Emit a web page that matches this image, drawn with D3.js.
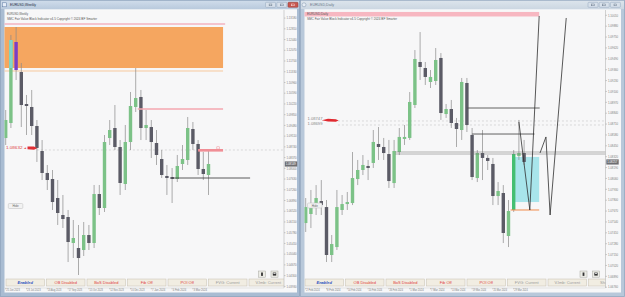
<!DOCTYPE html>
<html><head><meta charset="utf-8">
<script src="https://cdn.jsdelivr.net/npm/d3@7/dist/d3.min.js"></script>
<style>
html,body{margin:0;padding:0;background:#fff;overflow:hidden}
svg{display:block;font-family:"Liberation Sans","DejaVu Sans",Arial,sans-serif}
</style></head><body>
<svg id="c" width="625" height="297"></svg>
<script>
// ================= DATA : EURUSD Weekly (left window) =================
const weeklyOpen  = [1.09045,1.09563,1.12356,1.11321,1.10218,1.10115,1.09459,1.08597,1.07839,1.07632,1.06976,1.06390,1.06321,1.05425,1.05252,1.05183,1.05700,1.05425,1.07114,1.06632,1.09045,1.09390,1.08735,1.07460,1.08907,1.10115,1.10460,1.09390,1.09424,1.08873,1.08321,1.07735,1.07701,1.07632,1.08149,1.08287,1.09356,1.08839,1.07977,1.07770];
const weeklyHigh  = [1.10011,1.12598,1.12873,1.11632,1.10529,1.10701,1.09666,1.08976,1.08115,1.07942,1.07597,1.07080,1.06563,1.06218,1.06046,1.06149,1.06046,1.07425,1.07425,1.09149,1.09666,1.10183,1.08976,1.09494,1.10632,1.11459,1.10701,1.10011,1.09666,1.09321,1.08632,1.08115,1.08011,1.08460,1.08804,1.09770,1.09597,1.08976,1.08563,1.08632];
const weeklyLow   = [1.08804,1.09390,1.11045,1.09424,1.09149,1.09149,1.08218,1.07597,1.07252,1.06563,1.06046,1.05942,1.04769,1.04907,1.04321,1.04976,1.05183,1.05252,1.06390,1.06494,1.08804,1.08632,1.07080,1.07252,1.08632,1.09942,1.08976,1.08976,1.08356,1.08115,1.07666,1.07080,1.06804,1.07528,1.07942,1.08115,1.08632,1.07770,1.07597,1.07080];
const weeklyClose = [1.09666,1.12425,1.11390,1.10183,1.10149,1.09459,1.08701,1.07839,1.07597,1.06838,1.06459,1.06252,1.05459,1.05597,1.04907,1.05700,1.05425,1.07114,1.06632,1.08907,1.09321,1.08735,1.07494,1.08907,1.10149,1.10425,1.09390,1.09494,1.08907,1.08460,1.07770,1.07666,1.07632,1.08080,1.08321,1.09390,1.08839,1.07977,1.07804,1.08149];
const weeklyMarkedOB  = [1];   // candle partly painted as order block
const weeklyMarkedBoS = [2];   // purple candle
const weeklyPriceTicks = [1.13180,1.12810,1.12440,1.12070,1.11700,1.11330,1.10960,1.10590,1.10220,1.09850,1.09480,1.09110,1.08740,1.08370,1.08000,1.07630,1.07260,1.06890,1.06520,1.06150,1.05780,1.05410,1.05040,1.04670,1.04300,1.03930];
const weeklyDateLabels = ["25 Jun 2023","23 Jul 2023","20 Aug 2023","17 Sep 2023","15 Oct 2023","12 Nov 2023","10 Dec 2023","7 Jan 2024","4 Feb 2024","3 Mar 2024"];
const weeklyDateIndex  = [0,4,8,12,16,20,24,28,32,36];
// zones: [fromIndex, toIndex, priceHigh, priceLow]
const weeklyOrangeBox = [-2, 41.8, 1.12873, 1.11459];
const weeklyPinkTop   = [-2, 42.2, 1.12976];
const weeklyOrangeLine= [-2, 41.8, 1.11356];
const weeklyPinkLine  = [25.4, 41.8, 1.10046];
const weeklyRedZone   = [37, 41.8, 1.08666, 1.08597];
const weeklyBlackLine = [32, 47, 1.07666];
const weeklyDotted    = [6, 60, 1.08632];

// ================= DATA : EURUSD Daily (right window) =================
const dailyOpen  = [1.07527,1.07635,1.07754,1.07790,1.07718,1.07145,1.07240,1.07683,1.07754,1.07766,1.08053,1.08161,1.08209,1.08245,1.08472,1.08436,1.08352,1.08005,1.08376,1.08532,1.08544,1.08938,1.09452,1.09380,1.09213,1.09225,1.09500,1.08830,1.08890,1.08723,1.08639,1.09201,1.08580,1.08065,1.08364,1.08305,1.08233,1.07850,1.07886,1.07372,1.07683,1.08328,1.08364];
const dailyHigh  = [1.07826,1.07922,1.07981,1.08041,1.07802,1.07384,1.07922,1.07862,1.07898,1.08376,1.08281,1.08340,1.08281,1.08639,1.08675,1.08544,1.08520,1.08520,1.08663,1.08699,1.09093,1.09595,1.09810,1.09452,1.09356,1.09619,1.09559,1.08950,1.08998,1.08783,1.09261,1.09261,1.08663,1.08400,1.08639,1.08340,1.08305,1.08017,1.07981,1.07802,1.08400,1.08759,1.08520];
const dailyLow   = [1.07420,1.07467,1.07623,1.07623,1.07061,1.07061,1.07205,1.07623,1.07683,1.07742,1.07981,1.08101,1.08041,1.08185,1.08281,1.08281,1.07946,1.07946,1.08340,1.08460,1.08520,1.08902,1.09237,1.09177,1.09141,1.09177,1.08759,1.08783,1.08663,1.08436,1.08520,1.08615,1.08041,1.08017,1.08041,1.08161,1.07742,1.07742,1.07288,1.07240,1.07659,1.08281,1.08221];
const dailyClose = [1.07718,1.07766,1.07826,1.07742,1.07145,1.07276,1.07718,1.07754,1.07778,1.08065,1.08161,1.08221,1.08185,1.08496,1.08436,1.08364,1.08029,1.08388,1.08556,1.08556,1.08974,1.09488,1.09392,1.09273,1.09273,1.09476,1.08842,1.08890,1.08723,1.08651,1.09213,1.08699,1.08077,1.08364,1.08305,1.08269,1.07850,1.07910,1.07408,1.07671,1.08352,1.08364,1.08257];
const dailyMarkedFVG = [40];
const dailyPriceTicks = [1.10010,1.09880,1.09750,1.09620,1.09490,1.09360,1.09230,1.09100,1.08970,1.08840,1.08710,1.08580,1.08450,1.08320,1.08190,1.08060,1.07930,1.07800,1.07670,1.07540,1.07410,1.07280,1.07150,1.07020,1.06890,1.06760];
const dailyDateLabels = ["2 Feb 2024","8 Feb 2024","14 Feb 2024","20 Feb 2024","26 Feb 2024","1 Mar 2024","7 Mar 2024","13 Mar 2024","19 Mar 2024","25 Mar 2024","29 Mar 2024"];
const dailyDateIndex  = [0,4,8,12,16,20,24,28,32,36,40];
const dailyPinkBand  = [-2, 44.9, 1.10050, 1.09996];
const dailyLine1     = [31, 45.0, 1.08902];
const dailyLine2     = [32, 44.0, 1.08591];
const dailyDouble    = [17.2, 60, 1.08376, 1.08352];
const dailyDotted    = [6.2, 60, 1.08747, 1.08699];
const dailyCyanBox   = [39.9, 44.9, 1.08317, 1.07778];
const dailyOrangeLine= [39.4, 44.9, 1.07683];
const dailyZigA = [[41.0,1.08735],[43.1,1.07683],[44.9,1.10002]];
const dailyZigB = [[45.06,1.08364],[46.2,1.08556],[47.0,1.07623],[50.1,1.09978]];

const buttonLabels = ["Enabled","OB Disabled","BoS Disabled","Fib Off","POI Off","FVG: Current","V.Imb: Current","Show All"];
const buttonColors = ["#2f4fc0","#e0403a","#e0403a","#e0403a","#e0403a","#9a9a9a","#9a9a9a","#9a9a9a"];

// ================= DRAWING =================
const svg = d3.select("#c");
const defs = svg.append("defs");
const gA = defs.append("linearGradient").attr("id","tA").attr("x1",0).attr("y1",0).attr("x2",0).attr("y2",1);
gA.append("stop").attr("offset","0%").attr("stop-color","#cfdcea");
gA.append("stop").attr("offset","100%").attr("stop-color","#b9cadd");
const gB = defs.append("linearGradient").attr("id","tB").attr("x1",0).attr("y1",0).attr("x2",0).attr("y2",1);
gB.append("stop").attr("offset","0%").attr("stop-color","#dce4ec");
gB.append("stop").attr("offset","100%").attr("stop-color","#ccd7e2");

const BULL="#7cc287", BEAR="#5b5b66", WICK="#8a8a8a";

function drawWindow(c){
  const g = svg.append("g");
  g.append("rect").attr("x",c.win[0]).attr("y",0).attr("width",c.win[1]-c.win[0]).attr("height",297).attr("fill",c.frame);
  g.append("rect").attr("x",c.win[0]+0.5).attr("y",0.5).attr("width",c.win[1]-c.win[0]-1).attr("height",296).attr("fill","none").attr("stroke","#8a9fb8").attr("stroke-width",0.6);
  g.append("rect").attr("x",c.win[0]+1).attr("y",0.8).attr("width",c.win[1]-c.win[0]-2).attr("height",8.2).attr("fill",`url(#${c.grad})`);
  if(c.iconCircle){
    g.append("circle").attr("cx",c.win[0]+4).attr("cy",4.8).attr("r",2).attr("fill","#e8eef5").attr("stroke","#7f93ab").attr("stroke-width",0.5);
  } else {
    g.append("rect").attr("x",c.win[0]+2.3).attr("y",2.8).attr("width",4).attr("height",4).attr("fill","#e6eef8").attr("stroke","#5b77a0").attr("stroke-width",0.5);
  }
  g.append("text").attr("x",c.win[0]+10).attr("y",6.4).attr("font-size",4.2).attr("fill",c.titleColor).text(c.title).attr("textLength",c.titleLen).attr("lengthAdjust","spacingAndGlyphs");
  c.ctrl.forEach((cx,i)=>{
    const red = c.redClose && i===2;
    g.append("rect").attr("x",cx).attr("y",2.3).attr("width",10).attr("height",5).attr("rx",0.8)
      .attr("fill",red?"#c8574f":"#d7e0ea").attr("stroke",red?"#8c3b35":"#93a6bc").attr("stroke-width",0.5);
    g.append("rect").attr("x",cx+3.6).attr("y",4).attr("width",2.8).attr("height",1.8).attr("fill","none").attr("stroke",red?"#fff":"#55667a").attr("stroke-width",0.4);
  });
  const cl=c.client;
  g.append("rect").attr("x",cl[0]).attr("y",9.5).attr("width",cl[1]-cl[0]).attr("height",283).attr("fill","#f7f7f8");
  g.append("line").attr("x1",cl[0]).attr("x2",cl[1]).attr("y1",9.7).attr("y2",9.7).attr("stroke","#ffffff").attr("stroke-width",0.6);

  const x = d3.scaleLinear().domain([0,1]).range([c.x0, c.x0+5.2]);
  const y = d3.scaleLinear().domain(c.yDomain).range([288,11]);
  const clipId = "clip"+c.id;
  defs.append("clipPath").attr("id",clipId).append("rect").attr("x",cl[0]).attr("y",10).attr("width",c.axisX-cl[0]).attr("height",278);
  const p = g.append("g").attr("clip-path",`url(#${clipId})`);
  c.background(p,x,y);
  const bw=3.4;
  const idx = d3.range(c.open.length);
  p.selectAll(null).data(idx).enter().append("line")
    .attr("x1",i=>x(i)).attr("x2",i=>x(i)).attr("y1",i=>y(c.high[i])).attr("y2",i=>y(c.low[i]))
    .attr("stroke",WICK).attr("stroke-width",0.7);
  p.selectAll(null).data(idx).enter().append("rect")
    .attr("x",i=>x(i)-bw/2).attr("width",bw)
    .attr("y",i=>y(Math.max(c.open[i],c.close[i])))
    .attr("height",i=>Math.max(0.9,Math.abs(y(c.open[i])-y(c.close[i]))))
    .attr("fill",i=>c.candleColor(i, c.close[i]>=c.open[i]));
  c.foreground(p,x,y);
  g.append("line").attr("x1",c.axisX).attr("x2",c.axisX).attr("y1",10).attr("y2",288).attr("stroke","#b5b5b5").attr("stroke-width",0.6);
  g.append("line").attr("x1",cl[0]).attr("x2",c.axisX).attr("y1",288).attr("y2",288).attr("stroke","#cfcfcf").attr("stroke-width",0.5);
  const fmt=d3.format(".5f");
  c.ticks.forEach(v=>{
    const yy=y(v);
    g.append("line").attr("x1",c.axisX).attr("x2",c.axisX+1.5).attr("y1",yy).attr("y2",yy).attr("stroke","#9a9a9a").attr("stroke-width",0.5);
    g.append("text").attr("x",c.axisX+2.4).attr("y",yy+1.2).attr("font-size",3.4).attr("fill","#7d7d7d")
      .attr("textLength",10.2).attr("lengthAdjust","spacingAndGlyphs").text(fmt(v));
  });
  const last = c.close[c.close.length-1];
  g.append("rect").attr("x",c.axisX+0.8).attr("y",y(last)-2.6).attr("width",12.4).attr("height",5.2).attr("fill","#6e6e72");
  g.append("text").attr("x",c.axisX+1.7).attr("y",y(last)+1.2).attr("font-size",3.4).attr("fill","#fff")
    .attr("textLength",10.2).attr("lengthAdjust","spacingAndGlyphs").text(fmt(last));
  c.dateIdx.forEach((di,k)=>{
    g.append("line").attr("x1",x(di)).attr("x2",x(di)).attr("y1",288).attr("y2",289.3).attr("stroke","#9a9a9a").attr("stroke-width",0.5);
    g.append("text").attr("x",x(di)+0.6).attr("y",291.3).attr("font-size",3.1).attr("fill","#7d7d7d")
      .attr("textLength",13.5).attr("lengthAdjust","spacingAndGlyphs").text(c.dates[k]);
  });
  p.append("text").attr("x",cl[0]+2.5).attr("y",15).attr("font-size",3.3).attr("fill","#555").attr("textLength",21).attr("lengthAdjust","spacingAndGlyphs").text(c.title);
  p.append("text").attr("x",cl[0]+2.5).attr("y",20).attr("font-size",3.3).attr("fill","#555").attr("textLength",90).attr("lengthAdjust","spacingAndGlyphs").text("SMC Fair Value Block Indicator v4.5 Copyright © 2024 BF Smarter");
  p.append("rect").attr("x",c.hide[0]).attr("y",c.hide[1]).attr("width",14.5).attr("height",5).attr("rx",1).attr("fill","#f2f2f2").attr("stroke","#bdbdbd").attr("stroke-width",0.5);
  p.append("text").attr("x",c.hide[0]+7.25).attr("y",c.hide[1]+3.6).attr("text-anchor","middle").attr("font-size",3).attr("fill","#666").text("Hide");
  buttonLabels.forEach((lab,k)=>{
    const bx=c.btnX+k*40.5;
    p.append("rect").attr("x",bx).attr("y",279).attr("width",38.5).attr("height",7).attr("fill","#f1ede2").attr("stroke","#c5bfb0").attr("stroke-width",0.5);
    const t=p.append("text").attr("x",bx+19.25).attr("y",284).attr("text-anchor","middle").attr("font-size",4)
      .attr("fill",buttonColors[k]).text(lab);
    if(k===0) t.attr("font-style","italic").attr("font-weight","bold");
  });
  [c.axisX-25.5,c.axisX-13].forEach((bx,k)=>{
    p.append("rect").attr("x",bx).attr("y",271).attr("width",7).attr("height",6.2).attr("fill","#ecece6").attr("stroke","#a8a8a0").attr("stroke-width",0.5);
    if(k===0) p.append("rect").attr("x",bx+2.6).attr("y",272.5).attr("width",1.8).attr("height",3.4).attr("fill","#333");
    else { p.append("rect").attr("x",bx+1.8).attr("y",272.6).attr("width",3.4).attr("height",3).attr("fill","#333");
           p.append("rect").attr("x",bx+2.4).attr("y",273.1).attr("width",2.2).attr("height",0.9).attr("fill","#ddd"); }
  });
}

drawWindow({
  id:"L", win:[0,300], frame:"#a9bcd2", grad:"tA", title:"EURUSD,Weekly", titleLen:26, titleColor:"#1d2a3a",
  ctrl:[265.5,276.8,288], redClose:true, client:[4.5,297], axisX:284, x0:5.7,
  yDomain:[1.03873,1.13425],
  open:weeklyOpen, high:weeklyHigh, low:weeklyLow, close:weeklyClose,
  ticks:weeklyPriceTicks, dates:weeklyDateLabels, dateIdx:weeklyDateIndex,
  hide:[8.3,203.5], btnX:6,
  candleColor:(i,bull)=> weeklyMarkedBoS.includes(i) ? "#7b3ec6" : (bull?BULL:BEAR),
  background:(p,x,y)=>{
    p.append("rect").attr("x",x(weeklyOrangeBox[0])).attr("width",x(weeklyOrangeBox[1])-x(weeklyOrangeBox[0]))
      .attr("y",y(weeklyOrangeBox[2])).attr("height",y(weeklyOrangeBox[3])-y(weeklyOrangeBox[2])).attr("fill","#f5a660");
    p.append("line").attr("x1",x(weeklyPinkTop[0])).attr("x2",x(weeklyPinkTop[1])).attr("y1",y(weeklyPinkTop[2])).attr("y2",y(weeklyPinkTop[2])).attr("stroke","#f3b3c0").attr("stroke-width",1.6);
    p.append("line").attr("x1",x(weeklyOrangeLine[0])).attr("x2",x(weeklyOrangeLine[1])).attr("y1",y(weeklyOrangeLine[2])).attr("y2",y(weeklyOrangeLine[2])).attr("stroke","#f7c89d").attr("stroke-width",1);
    p.append("line").attr("x1",x(weeklyDotted[0])).attr("x2",x(weeklyDotted[1])).attr("y1",y(weeklyDotted[2])).attr("y2",y(weeklyDotted[2])).attr("stroke","#c4c4c4").attr("stroke-width",0.6).attr("stroke-dasharray","2,2");
  },
  foreground:(p,x,y)=>{
    weeklyMarkedOB.forEach(i=>{
      const top=Math.max(y(weeklyClose[i]),y(weeklyOrangeBox[2])), bot=Math.min(y(weeklyOpen[i]),y(weeklyOrangeBox[3]));
      p.append("rect").attr("x",x(i)-1.7).attr("width",3.4).attr("y",top).attr("height",bot-top).attr("fill","#7fd6cc");
    });
    p.append("line").attr("x1",x(weeklyPinkLine[0])).attr("x2",x(weeklyPinkLine[1])).attr("y1",y(weeklyPinkLine[2])).attr("y2",y(weeklyPinkLine[2])).attr("stroke","#f4a7b0").attr("stroke-width",1.4);
    p.append("rect").attr("x",x(weeklyRedZone[0])).attr("width",x(weeklyRedZone[1])-x(weeklyRedZone[0]))
      .attr("y",y(weeklyRedZone[2])).attr("height",y(weeklyRedZone[3])-y(weeklyRedZone[2])+0.6).attr("fill","#f08e96");
    p.append("rect").attr("x",x(40.6)).attr("width",2.6).attr("y",y(weeklyRedZone[2])-2.2).attr("height",2.2).attr("fill","none").attr("stroke","#f08e96").attr("stroke-width",0.5);
    p.append("line").attr("x1",x(weeklyBlackLine[0])).attr("x2",x(weeklyBlackLine[1])).attr("y1",y(weeklyBlackLine[2])).attr("y2",y(weeklyBlackLine[2])).attr("stroke","#333").attr("stroke-width",0.8);
    const yy=y(weeklyDotted[2]);
    p.append("text").attr("x",6).attr("y",yy-0.6).attr("font-size",3).attr("fill","#e03c3c").attr("textLength",20).attr("lengthAdjust","spacingAndGlyphs").text(d3.format(".5f")(weeklyDotted[2])+" ◂");
    p.append("path").attr("d",`M27.5,${yy-3.6} L34,${yy-3.4} L37.2,${yy-1.8} L34,${yy-0.2} L27.5,${yy-0.8} Z`).attr("fill","#e02f35");
  }
});

drawWindow({
  id:"R", win:[300,625], frame:"#b8c8da", grad:"tB", title:"EURUSD,Daily", titleLen:24, titleColor:"#6a7888", iconCircle:true,
  ctrl:[588,599.2,610.4], redClose:false, client:[304.5,621], axisX:605.5, x0:305.7,
  yDomain:[1.067505,1.100615],
  open:dailyOpen, high:dailyHigh, low:dailyLow, close:dailyClose,
  ticks:dailyPriceTicks, dates:dailyDateLabels, dateIdx:dailyDateIndex,
  hide:[307.5,203], btnX:305,
  candleColor:(i,bull)=> dailyMarkedFVG.includes(i) ? "#45bf72" : (bull?BULL:BEAR),
  background:(p,x,y)=>{
    p.append("rect").attr("x",x(dailyPinkBand[0])).attr("width",x(dailyPinkBand[1])-x(dailyPinkBand[0]))
      .attr("y",y(dailyPinkBand[2])).attr("height",y(dailyPinkBand[3])-y(dailyPinkBand[2])).attr("fill","#f7b7c1");
    p.append("rect").attr("x",x(dailyCyanBox[0])).attr("width",x(dailyCyanBox[1])-x(dailyCyanBox[0]))
      .attr("y",y(dailyCyanBox[2])).attr("height",y(dailyCyanBox[3])-y(dailyCyanBox[2])).attr("fill","#a8e5eb");
    dailyDotted.slice(2).forEach(v=>{
      p.append("line").attr("x1",x(dailyDotted[0])).attr("x2",x(dailyDotted[1])).attr("y1",y(v)).attr("y2",y(v)).attr("stroke","#c6c6c6").attr("stroke-width",0.6).attr("stroke-dasharray","2,2");
    });
  },
  foreground:(p,x,y)=>{
    dailyDouble.slice(2).forEach(v=>{
      p.append("line").attr("x1",x(dailyDouble[0])).attr("x2",x(dailyDouble[1])).attr("y1",y(v)).attr("y2",y(v)).attr("stroke","#6a6a6a").attr("stroke-width",0.5);
    });
    [dailyLine1,dailyLine2].forEach(l=>{
      p.append("line").attr("x1",x(l[0])).attr("x2",x(l[1])).attr("y1",y(l[2])).attr("y2",y(l[2])).attr("stroke","#505050").attr("stroke-width",0.9);
    });
    p.append("line").attr("x1",x(dailyOrangeLine[0])).attr("x2",x(dailyOrangeLine[1])).attr("y1",y(dailyOrangeLine[2])).attr("y2",y(dailyOrangeLine[2])).attr("stroke","#f08a4a").attr("stroke-width",1);
    const line=d3.line().x(d=>x(d[0])).y(d=>y(d[1]));
    [dailyZigA,dailyZigB].forEach(z=>{
      p.append("path").attr("d",line(z)).attr("fill","none").attr("stroke","#2e2e2e").attr("stroke-width",0.8);
    });
    const f=d3.format(".5f");
    p.append("text").attr("x",307.5).attr("y",y(dailyDotted[2])-0.8).attr("font-size",2.8).attr("fill","#888").attr("textLength",15).attr("lengthAdjust","spacingAndGlyphs").text(f(dailyDotted[2]));
    p.append("text").attr("x",307.5).attr("y",y(dailyDotted[3])+0.2).attr("font-size",2.8).attr("fill","#888").attr("textLength",15).attr("lengthAdjust","spacingAndGlyphs").text(f(dailyDotted[3]));
    const yy=y(dailyDotted[2]);
    p.append("path").attr("d",`M321.8,${yy-0.6} L328,${yy-2.2} L335.8,${yy-1.8} L338.6,${yy-0.5} L335.8,${yy+0.7} L328,${yy+0.6} Z`).attr("fill","#e02a30");
  }
});
</script>
</body></html>
